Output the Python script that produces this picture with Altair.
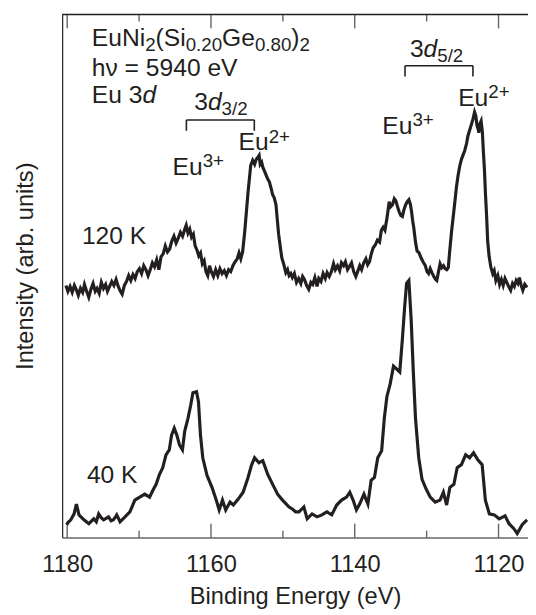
import altair as alt
import pandas as pd

# ---------------- data ----------------
# 120 K spectrum: (binding energy eV, intensity arb. units)
s120 = [
    (1180.18, 256), (1179.90, 250), (1179.60, 255), (1179.30, 249), (1179.00, 256), (1178.75, 252),
    (1178.45, 246), (1178.15, 253), (1177.85, 249), (1177.60, 257), (1177.30, 250), (1177.00, 244),
    (1176.70, 252), (1176.40, 258), (1176.10, 250), (1175.85, 253), (1175.55, 248), (1175.25, 259),
    (1174.95, 253), (1174.65, 257), (1174.40, 250), (1174.10, 255), (1173.80, 260), (1173.50, 256),
    (1173.20, 262), (1172.90, 255), (1172.60, 250), (1172.35, 247), (1172.05, 256), (1171.75, 260),
    (1171.45, 266), (1171.15, 261), (1170.85, 267), (1170.55, 263), (1170.25, 270), (1169.95, 273),
    (1169.65, 268), (1169.35, 276), (1169.05, 272), (1168.75, 266), (1168.45, 272), (1168.15, 279),
    (1167.85, 275), (1167.55, 282), (1167.25, 272), (1166.95, 285), (1166.65, 288), (1166.35, 296),
    (1166.05, 290), (1165.75, 293), (1165.45, 301), (1165.15, 306), (1164.85, 299), (1164.55, 304),
    (1164.25, 310), (1163.95, 306), (1163.65, 313), (1163.45, 317), (1163.20, 309), (1162.95, 313),
    (1162.70, 305), (1162.45, 308), (1162.20, 296), (1161.95, 292), (1161.70, 286), (1161.45, 289),
    (1161.20, 278), (1160.95, 281), (1160.70, 270), (1160.45, 266), (1160.20, 276), (1159.95, 270),
    (1159.65, 265), (1159.35, 272), (1159.05, 266), (1158.75, 273), (1158.45, 268), (1158.15, 271),
    (1157.85, 266), (1157.55, 272), (1157.25, 270), (1156.95, 276), (1156.65, 280), (1156.35, 283),
    (1156.10, 289), (1155.85, 283), (1155.60, 290), (1155.30, 311), (1154.84, 351), (1154.47, 378),
    (1154.20, 383), (1153.93, 379), (1153.70, 384), (1153.47, 386), (1153.30, 388), (1153.15, 379),
    (1152.95, 381), (1152.79, 376), (1152.55, 372), (1152.33, 368), (1152.10, 364), (1151.87, 361),
    (1151.65, 355), (1151.42, 348), (1151.20, 345), (1150.96, 338), (1150.59, 308), (1150.30, 292),
    (1150.14, 284), (1149.90, 278), (1149.59, 269), (1149.35, 272), (1149.13, 266), (1148.90, 268),
    (1148.68, 264), (1148.40, 268), (1148.10, 259), (1147.80, 263), (1147.50, 258), (1147.25, 265),
    (1147.00, 262), (1146.70, 256), (1146.40, 252), (1146.10, 259), (1145.85, 257), (1145.55, 264),
    (1145.25, 255), (1145.00, 263), (1144.70, 260), (1144.40, 268), (1144.10, 263), (1143.85, 269),
    (1143.55, 265), (1143.25, 270), (1142.95, 278), (1142.70, 272), (1142.40, 276), (1142.10, 271),
    (1141.85, 279), (1141.55, 276), (1141.30, 280), (1141.00, 272), (1140.75, 275), (1140.45, 279),
    (1140.15, 270), (1139.85, 265), (1139.60, 270), (1139.30, 276), (1139.05, 272), (1138.75, 279),
    (1138.45, 283), (1138.20, 277), (1137.95, 280), (1137.70, 288), (1137.45, 294), (1137.15, 297),
    (1136.85, 302), (1136.55, 300), (1136.30, 312), (1136.05, 315), (1135.80, 312), (1135.53, 324),
    (1135.35, 333), (1135.21, 341), (1135.00, 336), (1134.75, 338), (1134.50, 344), (1134.29, 342),
    (1134.05, 336), (1133.84, 331), (1133.60, 327), (1133.38, 326), (1133.15, 333), (1132.92, 338),
    (1132.70, 341), (1132.47, 343), (1132.25, 338), (1132.10, 331), (1131.95, 322), (1131.78, 314),
    (1131.55, 300), (1131.33, 291), (1131.05, 289), (1130.78, 284), (1130.50, 280), (1130.18, 276),
    (1129.95, 270), (1129.73, 268), (1129.50, 273), (1129.27, 269), (1129.00, 265), (1128.75, 262),
    (1128.59, 261), (1128.35, 270), (1128.13, 278), (1127.90, 274), (1127.65, 276), (1127.44, 273),
    (1127.20, 272), (1126.99, 274), (1126.80, 290), (1126.53, 311), (1126.30, 326), (1126.07, 341),
    (1125.85, 356), (1125.62, 368), (1125.40, 377), (1125.16, 384), (1124.95, 388), (1124.70, 393),
    (1124.45, 400), (1124.25, 408), (1124.00, 414), (1123.79, 419), (1123.55, 425), (1123.33, 432),
    (1123.15, 428), (1123.01, 419), (1122.85, 415), (1122.74, 411), (1122.60, 420), (1122.42, 423),
    (1122.25, 412), (1122.10, 391), (1121.95, 372), (1121.83, 351), (1121.65, 325), (1121.51, 301),
    (1121.30, 285), (1121.05, 274), (1120.80, 268), (1120.60, 271), (1120.37, 261), (1120.10, 266),
    (1119.85, 257), (1119.60, 262), (1119.35, 256), (1119.10, 263), (1118.85, 259), (1118.60, 255),
    (1118.31, 251), (1118.05, 258), (1117.80, 255), (1117.55, 261), (1117.30, 258), (1117.10, 264),
    (1116.85, 256), (1116.62, 251), (1116.35, 257), (1116.03, 254),
]

# 40 K spectrum
s40 = [
    (1180.09, 13), (1179.80, 16), (1179.50, 18), (1179.04, 24), (1178.72, 34), (1178.36, 23),
    (1177.67, 18), (1176.99, 14), (1176.30, 19), (1175.95, 16), (1175.62, 24), (1175.25, 20),
    (1174.93, 18), (1174.25, 21), (1173.90, 17), (1173.56, 18), (1173.11, 23), (1172.65, 16),
    (1171.96, 21), (1171.28, 26), (1170.59, 38), (1169.91, 41), (1169.22, 44), (1168.54, 41),
    (1168.08, 48), (1167.63, 54), (1167.17, 64), (1166.71, 71), (1166.26, 84), (1165.80, 89),
    (1165.48, 104), (1165.11, 111), (1164.75, 104), (1164.38, 94), (1163.97, 89), (1163.65, 108),
    (1163.20, 121), (1162.83, 134), (1162.51, 147), (1162.01, 148), (1161.74, 138), (1161.46, 104),
    (1161.14, 81), (1160.55, 63), (1159.86, 51), (1159.27, 38), (1158.86, 28), (1158.40, 38),
    (1157.95, 28), (1157.35, 36), (1156.89, 33), (1156.21, 39), (1155.53, 46), (1154.84, 61),
    (1154.38, 73), (1153.93, 81), (1153.33, 76), (1152.79, 78), (1152.10, 64), (1151.42, 54),
    (1150.73, 44), (1150.05, 38), (1149.13, 31), (1148.68, 29), (1148.22, 26), (1147.76, 26),
    (1147.08, 31), (1146.62, 19), (1145.94, 24), (1145.25, 21), (1144.57, 23), (1143.88, 26),
    (1143.20, 23), (1142.51, 33), (1141.83, 38), (1141.14, 41), (1140.69, 46), (1140.23, 38),
    (1139.77, 28), (1139.32, 34), (1138.72, 44), (1138.17, 34), (1137.72, 58), (1137.26, 61),
    (1136.80, 81), (1136.26, 88), (1135.89, 121), (1135.53, 143), (1135.07, 156), (1134.61, 174),
    (1134.16, 171), (1133.74, 168), (1133.38, 201), (1133.06, 234), (1132.79, 258), (1132.47, 261),
    (1132.15, 221), (1131.87, 171), (1131.55, 121), (1131.10, 81), (1130.64, 59), (1130.05, 49),
    (1129.50, 41), (1128.81, 36), (1128.13, 38), (1127.67, 46), (1127.22, 33), (1126.76, 51),
    (1126.21, 54), (1125.75, 71), (1125.16, 74), (1124.57, 84), (1124.02, 81), (1123.47, 86),
    (1122.88, 79), (1122.28, 74), (1121.83, 38), (1121.28, 24), (1120.59, 23), (1119.91, 19),
    (1119.09, 22), (1118.54, 14), (1117.86, 9), (1117.40, 4), (1116.71, 13), (1116.03, 18),
]

x_labels = [1180, 1160, 1140, 1120]
tick_values = [1180, 1170, 1160, 1150, 1140, 1130, 1120]
major_ticks = [1180, 1160, 1140, 1120]

# annotation anchors (energy, intensity) and text pieces
annotations = [
    (1176.58, 499, [("EuNi", "n"), ("2", "sub"), ("(Si", "n"), ("0.20", "sub"),
                    ("Ge", "n"), ("0.80", "sub"), (")", "n"), ("2", "sub")]),
    (1176.58, 469, [("h\u03bd = 5940 eV", "n")]),
    (1176.58, 441, [("Eu 3", "n"), ("d", "it")]),
    (1162.33, 434, [("3", "n"), ("d", "it"), ("3/2", "sub")]),
    (1165.34, 368, [("Eu", "n"), ("3+", "sup")]),
    (1156.16, 393, [("Eu", "n"), ("2+", "sup")]),
    (1132.33, 488, [("3", "n"), ("d", "it"), ("5/2", "sub")]),
    (1136.16, 410, [("Eu", "n"), ("3+", "sup")]),
    (1125.62, 438, [("Eu", "n"), ("2+", "sup")]),
    (1177.95, 298, [("120 K", "n")]),
    (1177.26, 55, [("40 K", "n")]),
]
# brackets: left energy, right energy, top intensity, leg bottom intensity
brackets = [(1163.42, 1153.97, 424, 413), (1133.01, 1123.56, 479, 468)]

# ---------------- layout / style ----------------
W, H = 473, 531
x_dom = [1115.9, 1180.7]
y_dom = [0, 531]
ppe = W / (x_dom[1] - x_dom[0])
ppi = H / (y_dom[1] - y_dom[0])
INK = "#231f20"
FONT = "Liberation Sans"
MAIN, SUB = 25, 19

CW = {'E': 667, 'u': 556, 'N': 722, 'i': 222, '(': 333, 'S': 667, 'G': 778, 'e': 556,
      ')': 333, '.': 278, ' ': 278, 'h': 556, '\u03bd': 500, '=': 584, 'V': 667, 'd': 556,
      '/': 278, '+': 584, 'K': 667}


def tw(s, size):
    return sum(CW.get(c, 556) for c in s) / 1000 * size


rows = []
for e0, i0, parts in annotations:
    px = 0.0
    for t, k in parts:
        size = SUB if k in ("sub", "sup") else MAIN
        dy = -5 if k == "sub" else (8 if k == "sup" else 0)
        rows.append(dict(tx=e0 - px / ppe, ty=i0 + dy / ppi, label=t, kind=k))
        px += tw(t, size)
txt = pd.DataFrame(rows)
txt_main = txt[txt["kind"] == "n"].reset_index(drop=True)
txt_small = txt[txt["kind"].isin(["sub", "sup"])].reset_index(drop=True)
txt_ital = txt[txt["kind"] == "it"].reset_index(drop=True)

spec = pd.concat([
    pd.DataFrame({"E": [p[0] for p in s120], "I": [p[1] for p in s120], "series": "120 K"}),
    pd.DataFrame({"E": [p[0] for p in s40], "I": [p[1] for p in s40], "series": "40 K"}),
], ignore_index=True)

# frame line and brackets as segments
seg_rows = [dict(sx=float(x_dom[1]), sx2=float(x_dom[0]), sy=float(y_dom[1]), sy2=float(y_dom[1]),
                 k="frame")]
for eL, eR, top, bot in brackets:
    seg_rows.append(dict(sx=eL, sx2=eR, sy=float(top), sy2=float(top), k="br"))
    seg_rows.append(dict(sx=eL, sx2=eL, sy=float(bot), sy2=float(top), k="br"))
    seg_rows.append(dict(sx=eR, sx2=eR, sy=float(bot), sy2=float(top), k="br"))
segs = pd.DataFrame(seg_rows)

# inward ticks: centre and length (bottom and top)
tk_rows = []
for v in tick_values:
    L = 14 if v in major_ticks else 7
    tk_rows.append(dict(kx=float(v), ky=y_dom[0] + L / 2, L=L))
    tk_rows.append(dict(kx=float(v), ky=y_dom[1] - L / 2, L=L))
tk = pd.DataFrame(tk_rows)

xscale = alt.Scale(domain=x_dom, reverse=True, nice=False, zero=False)
yscale = alt.Scale(domain=y_dom, nice=False, zero=False)

xaxis = alt.Axis(values=x_labels, format="d", ticks=False, tickSize=0, grid=False,
                 labelFont=FONT, labelFontSize=24, labelColor=INK, labelBaseline="alphabetic",
                 labelPadding=34, labelFlush=False, labelOverlap=False,
                 title="Binding Energy (eV)", titleFont=FONT, titleFontSize=24,
                 titleFontWeight="normal", titleColor=INK, titleBaseline="alphabetic",
                 titleY=67, domainColor=INK, domainWidth=1.2)
yaxis = alt.Axis(labels=False, ticks=False, tickSize=0, grid=False,
                 title="Intensity (arb. units)", titleFont=FONT, titleFontSize=24,
                 titleFontWeight="normal", titleColor=INK, titleBaseline="alphabetic",
                 titleAngle=270, titleAlign="center", titleX=-30, titleY=255,
                 domainColor=INK, domainWidth=1.2)

seg_marks = alt.Chart(segs).mark_rule(strokeWidth=1.6).encode(
    x=alt.X("sx:Q", scale=xscale, axis=xaxis), x2="sx2:Q",
    y=alt.Y("sy:Q", scale=yscale, axis=yaxis), y2="sy2:Q",
    color=alt.Color("k:N", scale=alt.Scale(domain=["frame", "br"], range=[INK, INK]),
                    legend=None))

tick_marks = alt.Chart(tk).mark_tick(color=INK, thickness=1.4).encode(
    x="kx:Q", y="ky:Q", size=alt.Size("L:Q", scale=None, legend=None))

lines = alt.Chart(spec).mark_line(color=INK, strokeWidth=3.2, clip=True).encode(
    x="E:Q", y="I:Q", detail="series:N")

text_main = alt.Chart(txt_main).mark_text(
    align="left", baseline="alphabetic", font=FONT, fontSize=MAIN, color=INK).encode(
    x="tx:Q", y="ty:Q", text="label:N")
text_small = alt.Chart(txt_small).mark_text(
    align="left", baseline="alphabetic", font=FONT, fontSize=SUB, color=INK).encode(
    x="tx:Q", y="ty:Q", text="label:N")
text_ital = alt.Chart(txt_ital).mark_text(
    align="left", baseline="alphabetic", font=FONT, fontSize=MAIN, fontStyle="italic",
    color=INK).encode(
    x="tx:Q", y="ty:Q", text="label:N")

chart = alt.layer(seg_marks, lines, text_main, text_small, text_ital, tick_marks).properties(
    width=W, height=H,
    autosize=alt.AutoSizeParams(type="none"),
    padding={"left": 55, "top": 2, "right": 0, "bottom": 74},
).configure_view(stroke=None)

chart.save("out.html", embed_options={"renderer": "svg", "actions": False})
